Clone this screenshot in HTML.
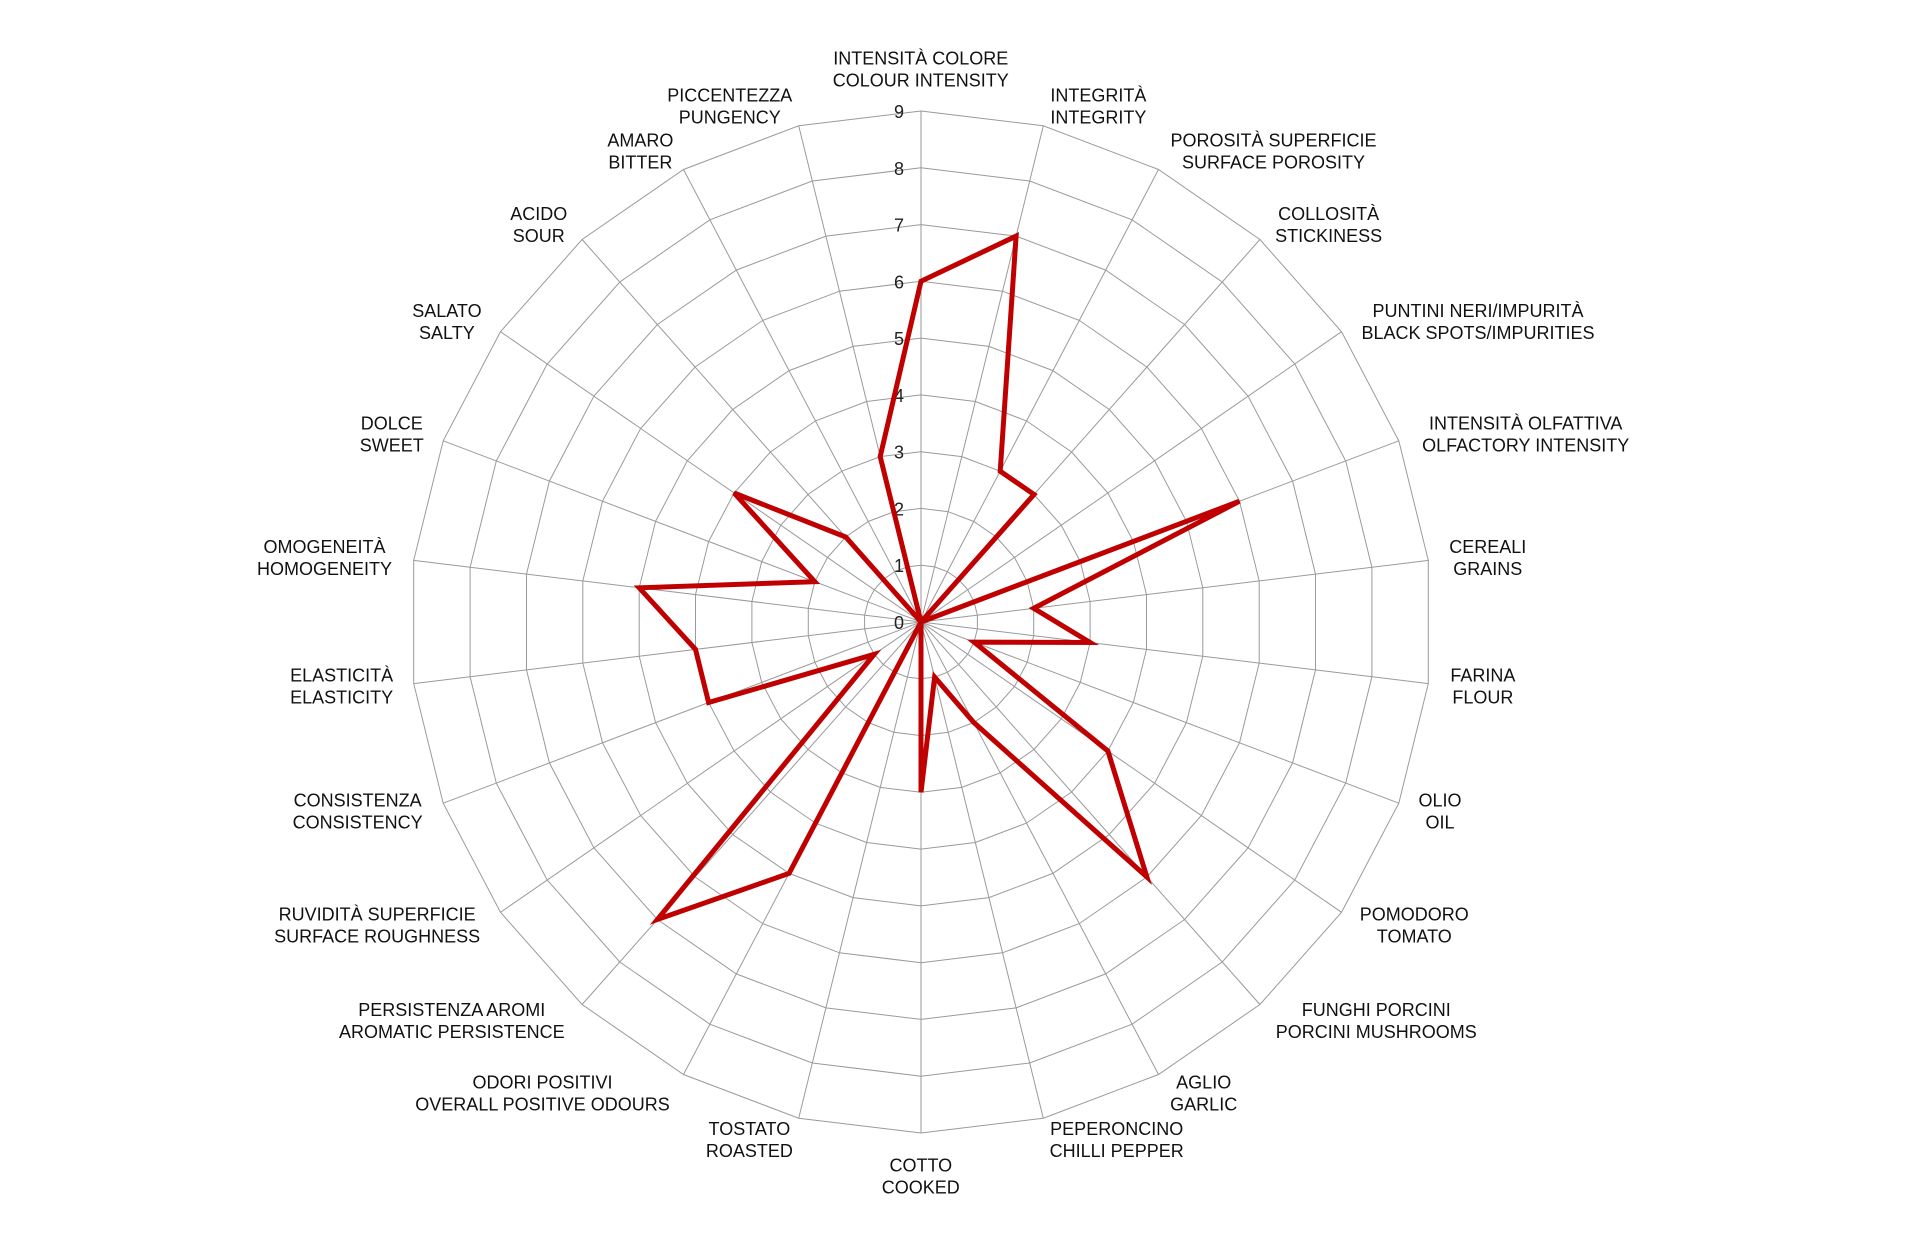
<!DOCTYPE html>
<html><head><meta charset="utf-8"><style>
html,body{margin:0;padding:0;background:#fff;}
svg{display:block;font-family:"Liberation Sans",sans-serif;}
</style></head><body>
<svg id="s" width="1920" height="1250" xmlns="http://www.w3.org/2000/svg"></svg>
<script>
const s=document.getElementById('s');
const cx=921,cy=622,R=511,N=26,step=R/9;
const labels=[["INTENSITÀ COLORE","COLOUR INTENSITY"],["INTEGRITÀ","INTEGRITY"],["POROSITÀ SUPERFICIE","SURFACE POROSITY"],["COLLOSITÀ","STICKINESS"],["PUNTINI NERI/IMPURITÀ","BLACK SPOTS/IMPURITIES"],["INTENSITÀ OLFATTIVA","OLFACTORY INTENSITY"],["CEREALI","GRAINS"],["FARINA","FLOUR"],["OLIO","OIL"],["POMODORO","TOMATO"],["FUNGHI PORCINI","PORCINI MUSHROOMS"],["AGLIO","GARLIC"],["PEPERONCINO","CHILLI PEPPER"],["COTTO","COOKED"],["TOSTATO","ROASTED"],["ODORI POSITIVI","OVERALL POSITIVE ODOURS"],["PERSISTENZA AROMI","AROMATIC PERSISTENCE"],["RUVIDITÀ SUPERFICIE","SURFACE ROUGHNESS"],["CONSISTENZA","CONSISTENCY"],["ELASTICITÀ","ELASTICITY"],["OMOGENEITÀ","HOMOGENEITY"],["DOLCE","SWEET"],["SALATO","SALTY"],["ACIDO","SOUR"],["AMARO","BITTER"],["PICCENTEZZA","PUNGENCY"]];
const pos=[[752,56],[897,86],[1040,123],[1085,183],[1207,262],[1246,354],[1215,455],[1211,560],[1176,662],[1155,755],[1124,833],[983,892],[912,930],[752,960],[612,930],[443,892],[369,833],[308,755],[292,662],[279,560],[265,455],[320,354],[365,262],[440,183],[523,123],[596,86]];
const vals=[6,7,3,3,0,6,2,3,1,4,6,2,1,3,0,5,7,1,4,4,5,2,4,2,0,3];
function pt(i,r){const a=i*2*Math.PI/N;return [cx+r*Math.sin(a),cy-r*Math.cos(a)];}
let h='';
for(let k=1;k<=9;k++){let p=[];for(let i=0;i<N;i++)p.push(pt(i,k*step).map(v=>v.toFixed(1)).join(','));h+=`<polygon points="${p.join(' ')}" fill="none" stroke="#9a9a9a" stroke-width="1"/>`;}
for(let i=0;i<N;i++){const [x,y]=pt(i,R);h+=`<line x1="${cx}" y1="${cy}" x2="${x.toFixed(1)}" y2="${y.toFixed(1)}" stroke="#9a9a9a" stroke-width="1"/>`;}
for(let k=0;k<=9;k++){h+=`<text x="904" y="${(cy-k*step+7).toFixed(1)}" font-size="18" text-anchor="end" fill="#222">${k}</text>`;}
let p=[];for(let i=0;i<N;i++)p.push(pt(i,vals[i]*step).map(v=>v.toFixed(1)).join(','));
h+=`<polygon points="${p.join(' ')}" fill="none" stroke="#c00000" stroke-width="5" stroke-linejoin="miter" stroke-miterlimit="4"/>`;
const sc=1.2245;
for(let i=0;i<N;i++){const x=pos[i][0]*sc,y=pos[i][1]*sc;
h+=`<text x="${x.toFixed(1)}" y="${(y-4).toFixed(1)}" font-size="18" text-anchor="middle" fill="#111">${labels[i][0]}</text>`;
h+=`<text x="${x.toFixed(1)}" y="${(y+18).toFixed(1)}" font-size="18" text-anchor="middle" fill="#111">${labels[i][1]}</text>`;}
s.innerHTML=h;
</script>
</body></html>
